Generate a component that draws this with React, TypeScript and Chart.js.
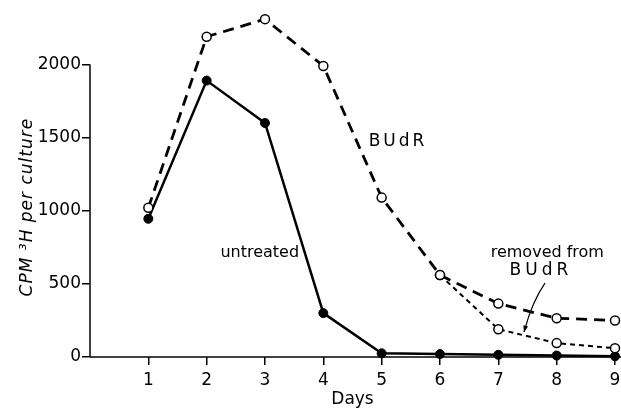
import React, { useEffect, useRef } from "react";
import { Chart, registerables } from "chart.js";

Chart.register(...registerables);

const days = [1, 2, 3, 4, 5, 6, 7, 8, 9];
const untreated = [945, 1890, 1600, 300, 25, 20, 15, 10, 5];
const budr = [1020, 2190, 2310, 1990, 1090, 560, 365, 265, 250];
const removedFromBudr = [null, null, null, null, null, 560, 190, 95, 60];
const yTicks = [0, 500, 1000, 1500, 2000];
const yTitle = "CPM \u00B3H per culture";

const FONT = "'DejaVu Sans', sans-serif";

const toPoints = (arr: (number | null)[]) =>
  days
    .map((d, i) => ({ x: d, y: arr[i] }))
    .filter((p) => p.y !== null) as { x: number; y: number }[];

const annotationPlugin = {
  id: "annots",
  beforeDatasetsDraw(chart: any) {
    const { ctx, scales, chartArea } = chart;
    const ys = scales.y;
    ctx.save();
    ctx.strokeStyle = "#000";
    ctx.lineWidth = 1.5;
    ctx.beginPath();
    ctx.moveTo(chartArea.left, ys.getPixelForValue(0));
    ctx.lineTo(chartArea.left, ys.getPixelForValue(yTicks[yTicks.length - 1]));
    ctx.stroke();
    ctx.beginPath();
    ctx.moveTo(chartArea.left, ys.getPixelForValue(0));
    ctx.lineTo(chart.width, ys.getPixelForValue(0));
    ctx.stroke();
    // y title
    ctx.fillStyle = "#000";
    ctx.font = `italic 17px ${FONT}`;
    ctx.textAlign = "center";
    ctx.textBaseline = "middle";
    (ctx as any).letterSpacing = "1px";
    ctx.translate(28, ys.getPixelForValue(1025));
    ctx.rotate(-Math.PI / 2);
    ctx.fillText(yTitle, 0, 0);
    ctx.restore();
  },
  afterDatasetsDraw(chart: any) {
    const { ctx, scales } = chart;
    const xs = scales.x;
    const ys = scales.y;
    ctx.save();
    ctx.fillStyle = "#000";
    ctx.strokeStyle = "#000";
    ctx.textAlign = "center";
    ctx.textBaseline = "middle";
    const txt = (t: string, x: number, y: number, size: number, ls = "0px") => {
      ctx.font = `${size}px ${FONT}`;
      (ctx as any).letterSpacing = ls;
      ctx.fillText(t, xs.getPixelForValue(x), ys.getPixelForValue(y));
    };
    txt("BUdR", 5.28, 1471, 17, "3px");
    txt("untreated", 2.91, 712, 16);
    txt("removed from", 7.84, 712, 16);
    txt("BUdR", 7.73, 590, 17, "4px");
    (ctx as any).letterSpacing = "0px";

    // curved arrow
    const x0 = xs.getPixelForValue(7.8);
    const y0 = ys.getPixelForValue(505);
    const x1 = xs.getPixelForValue(7.44);
    const y1 = ys.getPixelForValue(170);
    const cx = xs.getPixelForValue(7.58);
    const cy = ys.getPixelForValue(380);
    ctx.lineWidth = 1.2;
    ctx.beginPath();
    ctx.moveTo(x0, y0);
    ctx.quadraticCurveTo(cx, cy, x1, y1);
    ctx.stroke();
    const ang = Math.atan2(y1 - cy, x1 - cx);
    ctx.beginPath();
    ctx.moveTo(x1, y1);
    ctx.lineTo(x1 - 7 * Math.cos(ang - 0.35), y1 - 7 * Math.sin(ang - 0.35));
    ctx.lineTo(x1 - 7 * Math.cos(ang + 0.35), y1 - 7 * Math.sin(ang + 0.35));
    ctx.closePath();
    ctx.fill();
    ctx.restore();
  },
};

export default function App() {
  const ref = useRef<HTMLCanvasElement | null>(null);
  useEffect(() => {
    if (!ref.current) return;
    const chart = new Chart(ref.current, {
      type: "line",
      data: {
        datasets: [
          {
            label: "untreated",
            data: toPoints(untreated),
            borderColor: "#000",
            borderWidth: 2.5,
            pointRadius: 4.5,
            pointBackgroundColor: "#000",
            pointBorderColor: "#000",
            pointBorderWidth: 1,
            clip: false as any,
            order: 3,
          },
          {
            label: "removed from BUdR",
            data: toPoints(removedFromBudr),
            borderColor: "#000",
            borderWidth: 2,
            borderDash: [5, 4],
            pointRadius: 4.5,
            pointBackgroundColor: "#fff",
            pointBorderColor: "#000",
            pointBorderWidth: 1.5,
            clip: false as any,
            order: 2,
          },
          {
            label: "BUdR",
            data: toPoints(budr),
            borderColor: "#000",
            borderWidth: 2.8,
            borderDash: [11, 7],
            pointRadius: 4.5,
            pointBackgroundColor: "#fff",
            pointBorderColor: "#000",
            pointBorderWidth: 1.5,
            clip: false as any,
            order: 1,
          },
        ],
      },
      options: {
        animation: false,
        responsive: true,
        maintainAspectRatio: false,
        layout: { padding: { top: 3, right: 3, left: 0, bottom: 0 } },
        plugins: { legend: { display: false }, tooltip: { enabled: false } },
        scales: {
          x: {
            type: "linear",
            min: 0,
            max: 9,
            afterBuildTicks: (s: any) => {
              s.ticks = days.map((d) => ({ value: d }));
            },
            afterFit: (s: any) => {
              s.height = 54;
              s.paddingLeft = 0;
              s.paddingRight = 0;
            },
            ticks: {
              color: "#000",
              font: { family: FONT, size: 17 },
              padding: 5,
              maxRotation: 0,
              autoSkip: false,
              callback: (v: any) => String(v),
            },
            grid: {
              drawOnChartArea: false,
              drawTicks: true,
              tickLength: 8,
              color: "#000",
              lineWidth: 1.5,
            },
            border: { display: false },
            title: {
              display: true,
              text: "Days",
              color: "#000",
              font: { family: FONT, size: 17 },
              padding: { top: 0, bottom: 1 },
            },
          },
          y: {
            type: "linear",
            min: 0,
            max: 2400,
            afterBuildTicks: (s: any) => {
              s.ticks = yTicks.map((v) => ({ value: v }));
            },
            afterFit: (s: any) => {
              s.width = 90;
              s.paddingTop = 0;
              s.paddingBottom = 0;
            },
            ticks: {
              color: "#000",
              font: { family: FONT, size: 17 },
              padding: 1,
              autoSkip: false,
              callback: (v: any) => String(v),
            },
            grid: {
              drawOnChartArea: false,
              drawTicks: true,
              tickLength: 8,
              color: "#000",
              lineWidth: 1.5,
            },
            border: { display: false },
            title: { display: false },
          },
        },
      },
      plugins: [annotationPlugin],
    });
    return () => chart.destroy();
  }, []);
  return (
    <div style={{ position: "fixed", left: 0, top: 0, width: 621, height: 411, background: "#fff" }}>
      <canvas ref={ref} />
    </div>
  );
}
